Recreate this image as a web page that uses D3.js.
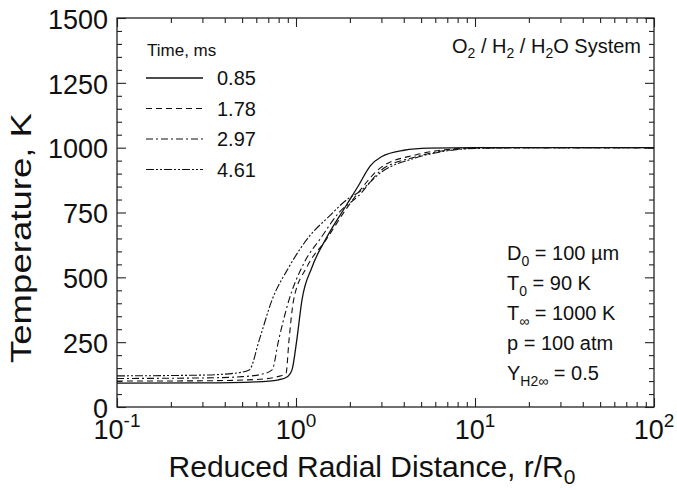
<!DOCTYPE html>
<html>
<head>
<meta charset="utf-8">
<script src="https://cdn.jsdelivr.net/npm/d3@7"></script>
<style>
body{margin:0;background:#fff;}
text{font-family:"Liberation Sans",Arial,sans-serif;fill:#111;}
</style>
</head>
<body>
<svg id="chart" width="677" height="490"></svg>
<script>
// time labels (ms) and line styles of the legend
var times = ["0.85", "1.78", "2.97", "4.61"];
var dashes = [null, "6,4", "7,3,2,3", "8,2,2,2,2,2"];

// temperature profiles [r/R0, T(K)]
var t085 = [[0.1,92],[0.3,93],[0.6,97],[0.8,105],[0.9,118],[0.95,143],[1.01,258],[1.08,413],[1.23,540],[1.49,656],[1.9,775],[2.24,855],[2.6,930],[3.0,965],[4.0,990],[5.5,998],[10,1000],[100,1000]];
var t178 = [[0.1,100],[0.3,101],[0.6,106],[0.8,118],[0.88,131],[0.914,258],[0.97,413],[1.15,540],[1.47,644],[1.9,762],[2.24,829],[3.0,925],[4.64,972],[7,993],[10,999],[15,1000],[100,1000]];
var t297 = [[0.1,110],[0.3,112],[0.5,117],[0.65,127],[0.735,143],[0.80,258],[0.914,413],[1.08,540],[1.39,656],[1.73,748],[2.24,815],[3.0,914],[4.64,964],[7,990],[10,998],[20,1000],[100,1000]];
var t461 = [[0.1,120],[0.3,123],[0.45,130],[0.548,143],[0.623,258],[0.735,413],[0.914,540],[1.18,656],[1.52,733],[1.97,805],[2.24,828],[3.0,906],[4.64,960],[7,988],[10,997],[20,1000],[100,1000]];
var profiles = [t085, t178, t297, t461];

var yTicks = [0,250,500,750,1000,1250,1500];
var xTicks = [0.1,1,10,100];
var xExp = ["-1","0","1","2"];

var svg = d3.select("#chart");
var pl=117, pr=654, pt=18, pb=407;

var x = d3.scaleLog().domain([0.1,100]).range([pl,pr]);
var y = d3.scaleLinear().domain([0,1500]).range([pb,pt]);

// minor tick values
var xMinor = [];
[0.1,1,10].forEach(function(d){ for(var k=2;k<10;k++) xMinor.push(d*k); });
var yMinor = d3.range(0,1501,50).filter(function(v){ return v%250!=0; });

function styleAxis(g){
  g.select(".domain").remove();
  g.selectAll("line").attr("stroke","#222").attr("stroke-width",1.1);
}

// left axis with labels
svg.append("g").attr("transform","translate("+pl+",0)")
  .call(d3.axisLeft(y).tickValues(yTicks).tickSize(-9).tickPadding(9).tickFormat(d3.format("d")))
  .call(styleAxis)
  .selectAll("text").attr("font-size",27).attr("font-family","'Liberation Sans',Arial,sans-serif").attr("fill","#111").attr("dy","0.38em");
svg.append("g").attr("transform","translate("+pl+",0)")
  .call(d3.axisLeft(y).tickValues(yMinor).tickSize(-5).tickFormat(""))
  .call(styleAxis);
// right axis
svg.append("g").attr("transform","translate("+pr+",0)")
  .call(d3.axisRight(y).tickValues(yTicks).tickSize(-9).tickFormat(""))
  .call(styleAxis);
svg.append("g").attr("transform","translate("+pr+",0)")
  .call(d3.axisRight(y).tickValues(yMinor).tickSize(-5).tickFormat(""))
  .call(styleAxis);
// bottom + top axes
svg.append("g").attr("transform","translate(0,"+pb+")")
  .call(d3.axisBottom(x).tickValues(xTicks).tickSize(-9).tickFormat(""))
  .call(styleAxis);
svg.append("g").attr("transform","translate(0,"+pb+")")
  .call(d3.axisBottom(x).tickValues(xMinor).tickSize(-5).tickFormat(""))
  .call(styleAxis);
svg.append("g").attr("transform","translate(0,"+pt+")")
  .call(d3.axisTop(x).tickValues(xTicks).tickSize(-9).tickFormat(""))
  .call(styleAxis);
svg.append("g").attr("transform","translate(0,"+pt+")")
  .call(d3.axisTop(x).tickValues(xMinor).tickSize(-5).tickFormat(""))
  .call(styleAxis);

// frame
svg.append("rect").attr("x",pl).attr("y",pt)
  .attr("width",pr-pl).attr("height",pb-pt)
  .attr("fill","none").attr("stroke","#222").attr("stroke-width",1.3);

// x tick labels 10^n
xTicks.forEach(function(d,i){
  var t = svg.append("text").attr("x",x(d)).attr("y",439)
    .attr("text-anchor","middle").attr("font-size",27);
  t.append("tspan").text("10");
  t.append("tspan").attr("dy",-12).attr("font-size",19).text(xExp[i]);
});

// axis titles
var xt = svg.append("text").attr("x",372).attr("y",477)
  .attr("text-anchor","middle").attr("font-size",30);
xt.append("tspan").text("Reduced Radial Distance, r/R");
xt.append("tspan").attr("dy",7).attr("font-size",21).text("0");

svg.append("text").attr("transform","translate(31,238) rotate(-90)")
  .attr("text-anchor","middle").attr("font-size",30)
  .attr("textLength",250).attr("lengthAdjust","spacingAndGlyphs")
  .text("Temperature, K");

// curves
var line = d3.line()
  .x(function(d){ return x(d[0]); })
  .y(function(d){ return y(d[1]); })
  .curve(d3.curveMonotoneX);

profiles.forEach(function(p,i){
  svg.append("path").datum(p).attr("d",line)
    .attr("fill","none").attr("stroke","#111")
    .attr("stroke-width",i==0?1.3:1.1)
    .attr("stroke-dasharray",dashes[i]);
});

// legend
svg.append("text").attr("x",147).attr("y",56).attr("font-size",17).text("Time, ms");
times.forEach(function(t,i){
  var ly = 78 + i*30.5;
  svg.append("line").attr("x1",146).attr("x2",203).attr("y1",ly).attr("y2",ly)
    .attr("stroke","#111").attr("stroke-width",i==0?1.3:1.1)
    .attr("stroke-dasharray",dashes[i]);
  svg.append("text").attr("x",217).attr("y",ly+7).attr("font-size",20).text(t);
});

// system label
var sys = svg.append("text").attr("x",641).attr("y",53).attr("text-anchor","end").attr("font-size",20);
sys.append("tspan").text("O");
sys.append("tspan").attr("dy",5).attr("font-size",14).text("2");
sys.append("tspan").attr("dy",-5).text(" / H");
sys.append("tspan").attr("dy",5).attr("font-size",14).text("2");
sys.append("tspan").attr("dy",-5).text(" / H");
sys.append("tspan").attr("dy",5).attr("font-size",14).text("2");
sys.append("tspan").attr("dy",-5).text("O System");

// conditions block
var conds = [
  ["D","0"," = 100 \u00b5m"],
  ["T","0"," = 90 K"],
  ["T","\u221e"," = 1000 K"],
  ["p",""," = 100 atm"],
  ["Y","H2\u221e"," = 0.5"]
];
conds.forEach(function(c,i){
  var t = svg.append("text").attr("x",507).attr("y",260+i*30).attr("font-size",20);
  t.append("tspan").text(c[0]);
  if(c[1]){
    t.append("tspan").attr("dy",6).attr("font-size",14).text(c[1]);
    t.append("tspan").attr("dy",-6).text(c[2]);
  } else {
    t.append("tspan").text(c[2]);
  }
});
</script>
</body>
</html>
